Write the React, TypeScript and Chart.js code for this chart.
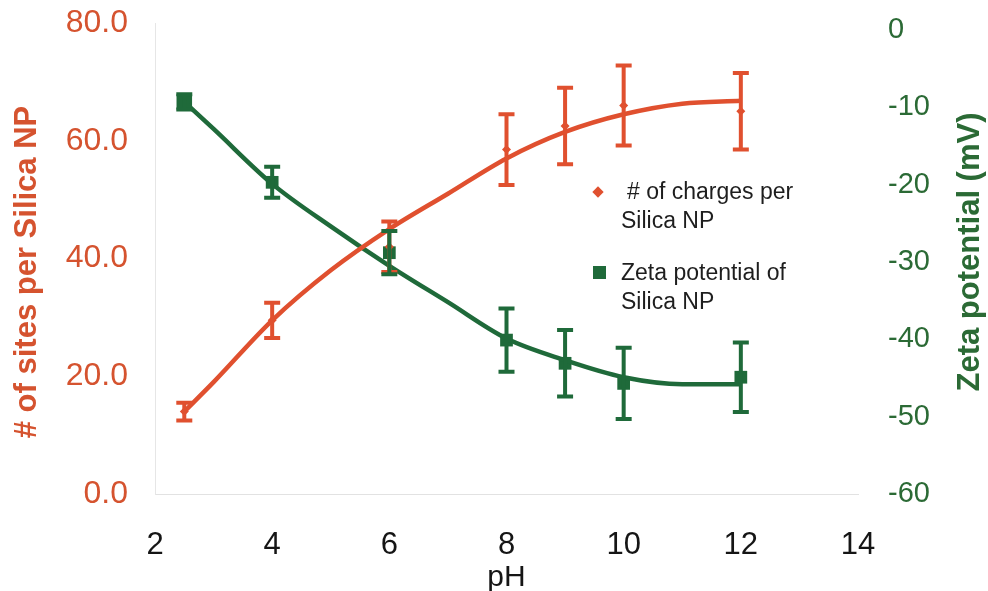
import React, { useEffect, useRef } from "react";
import { Chart, registerables } from "chart.js";

Chart.register(...registerables);

const pH = [2.5, 4, 6, 8, 9, 10, 12];
const charges = [14, 29.5, 42, 58.5, 62.5, 66, 65];
const chargesErr = [1.5, 3, 4.3, 6, 6.5, 6.8, 6.5];
const zeta = [-9.3, -19.7, -28.8, -40.1, -43.1, -45.7, -44.9];
const zetaErr = [1, 2, 2.8, 4.1, 4.3, 4.6, 4.5];

const fitPH = [2.5, 3, 4, 5, 6, 7, 8, 9, 10, 11, 12];
const chargesFit = [14, 19, 29.5, 38, 45, 51, 57, 61.5, 64.5, 66.3, 66.8];
const zetaFit = [-9.3, -12.8, -19.9, -25.4, -30.5, -35.2, -39.9, -42.7, -44.9, -45.8, -45.8];

const leftTicks = [0, 20, 40, 60, 80];
const rightTicks = [-60, -50, -40, -30, -20, -10, 0];

const leftTitle = "# of sites per Silica NP";
const rightTitle = "Zeta potential (mV)";
const xTitle = "pH";
const legendCharges = ["# of charges per", "Silica NP"];
const legendZeta = ["Zeta potential of", "Silica NP"];

const ORANGE = "#e0502f";
const ORANGE_TXT = "#d5532f";
const GREEN = "#1f6a3a";
const GREEN_TXT = "#2b6a35";
const FONT = "'Liberation Sans', Arial, sans-serif";

const errorBarPlugin = {
  id: "errorBars",
  afterDatasetsDraw(chart: any) {
    const ctx = chart.ctx;
    const xs = chart.scales.x;
    chart.data.datasets.forEach((ds: any) => {
      if (!ds.errors) return;
      const ys = chart.scales[ds.yAxisID];
      ctx.save();
      ctx.strokeStyle = ds.borderColor;
      ctx.lineWidth = 4;
      ds.data.forEach((p: any, j: number) => {
        const e = ds.errors[j];
        const x = xs.getPixelForValue(p.x);
        const yt = ys.getPixelForValue(p.y + e);
        const yb = ys.getPixelForValue(p.y - e);
        ctx.beginPath();
        ctx.moveTo(x, yt);
        ctx.lineTo(x, yb);
        ctx.moveTo(x - 8, yt);
        ctx.lineTo(x + 8, yt);
        ctx.moveTo(x - 8, yb);
        ctx.lineTo(x + 8, yb);
        ctx.stroke();
      });
      ctx.restore();
    });
  },
};

const titlesPlugin = {
  id: "yTitles",
  afterDraw(chart: any) {
    const ctx = chart.ctx;
    ctx.save();
    ctx.font = `bold 31px ${FONT}`;
    ctx.textAlign = "center";
    ctx.textBaseline = "middle";
    ctx.fillStyle = ORANGE_TXT;
    ctx.translate(27, 272);
    ctx.rotate(-Math.PI / 2);
    ctx.fillText(leftTitle, 0, 0);
    ctx.restore();
    ctx.save();
    ctx.font = `bold 31px ${FONT}`;
    ctx.textAlign = "center";
    ctx.textBaseline = "middle";
    ctx.fillStyle = GREEN_TXT;
    ctx.translate(970, 252);
    ctx.rotate(-Math.PI / 2);
    ctx.fillText(rightTitle, 0, 0);
    ctx.restore();
  },
};

function noPadV(s: any) {
  s.paddingTop = 0;
  s.paddingBottom = 0;
}

export default function App() {
  const ref = useRef<HTMLCanvasElement>(null);
  useEffect(() => {
    if (!ref.current) return;
    const chart = new Chart(ref.current, {
      type: "line",
      data: {
        datasets: [
          {
            label: "charges fit",
            data: fitPH.map((x, i) => ({ x, y: chargesFit[i] })),
            borderColor: ORANGE,
            borderWidth: 4.5,
            pointRadius: 0,
            cubicInterpolationMode: "monotone",
            yAxisID: "y",
          },
          {
            label: "zeta fit",
            data: fitPH.map((x, i) => ({ x, y: zetaFit[i] })),
            borderColor: GREEN,
            borderWidth: 4.5,
            pointRadius: 0,
            cubicInterpolationMode: "monotone",
            yAxisID: "y1",
          },
          {
            label: "# of charges per Silica NP",
            data: pH.map((x, i) => ({ x, y: charges[i] })),
            errors: chargesErr,
            showLine: false,
            borderColor: ORANGE,
            backgroundColor: ORANGE,
            pointStyle: "rectRot",
            pointRadius: 4.5,
            pointBorderWidth: 0,
            yAxisID: "y",
          } as any,
          {
            label: "Zeta potential of Silica NP",
            data: pH.map((x, i) => ({ x, y: zeta[i] })),
            errors: zetaErr,
            showLine: false,
            borderColor: GREEN,
            backgroundColor: GREEN,
            pointStyle: "rect",
            pointRadius: pH.map((_, i) => (i === 0 ? 11 : 9)),
            pointBorderWidth: 0,
            yAxisID: "y1",
          } as any,
        ],
      },
      options: {
        responsive: false,
        animation: false,
        layout: { padding: { top: 23, left: 0, right: 0, bottom: 0 } },
        plugins: { legend: { display: false }, tooltip: { enabled: false } },
        scales: {
          x: {
            type: "linear",
            position: "bottom",
            min: 2,
            max: 14,
            grid: { display: false, drawTicks: false },
            border: { display: true, color: "#e2e2e2", width: 1 },
            ticks: {
              stepSize: 2,
              padding: 33,
              color: "#151515",
              font: { family: FONT, size: 31 },
            },
            title: {
              display: true,
              text: xTitle,
              color: "#151515",
              font: { family: FONT, size: 30, lineHeight: 1 },
              padding: { top: 0, bottom: -2 },
            },
            afterFit: (s: any) => {
              s.height = 97;
              s.paddingLeft = 0;
              s.paddingRight = 0;
            },
          },
          y: {
            type: "linear",
            position: "left",
            min: 0,
            max: 80,
            grid: { display: false, drawTicks: false },
            border: { display: true, color: "#e6e6e6", width: 1 },
            afterBuildTicks: (s: any) => {
              s.ticks = leftTicks.map((v) => ({ value: v }));
            },
            ticks: {
              padding: 27,
              color: ORANGE_TXT,
              font: { family: FONT, size: 32 },
              callback: (v: any) => Number(v).toFixed(1),
            },
            afterFit: (s: any) => {
              s.width = 155;
              noPadV(s);
            },
          },
          y1: {
            type: "linear",
            position: "right",
            min: -60,
            max: 0.9,
            grid: { display: false, drawTicks: false },
            border: { display: false },
            afterBuildTicks: (s: any) => {
              s.ticks = rightTicks.map((v) => ({ value: v }));
            },
            ticks: {
              padding: 30,
              color: GREEN_TXT,
              font: { family: FONT, size: 29 },
              callback: (v: any) => String(v),
            },
            afterFit: (s: any) => {
              s.width = 130;
              noPadV(s);
            },
          },
        },
      } as any,
      plugins: [errorBarPlugin, titlesPlugin],
    });
    return () => chart.destroy();
  }, []);

  const textStyle: React.CSSProperties = {
    position: "absolute",
    fontFamily: FONT,
    fontSize: 23,
    lineHeight: "29px",
    color: "#1e1e1e",
    whiteSpace: "nowrap",
  };

  return (
    <div style={{ position: "absolute", left: 0, top: 0, width: 988, height: 591, background: "#fff" }}>
      <canvas ref={ref} width={988} height={591} style={{ display: "block" }} />
      <div
        style={{
          position: "absolute",
          left: 594,
          top: 188,
          width: 8,
          height: 8,
          background: ORANGE,
          transform: "rotate(45deg)",
        }}
      />
      <div style={{ ...textStyle, left: 621, top: 177 }}>
        <div style={{ paddingLeft: 6 }}>{legendCharges[0]}</div>
        <div>{legendCharges[1]}</div>
      </div>
      <div
        style={{
          position: "absolute",
          left: 593,
          top: 266,
          width: 13,
          height: 13,
          background: GREEN,
        }}
      />
      <div style={{ ...textStyle, left: 621, top: 258 }}>
        <div>{legendZeta[0]}</div>
        <div>{legendZeta[1]}</div>
      </div>
    </div>
  );
}
